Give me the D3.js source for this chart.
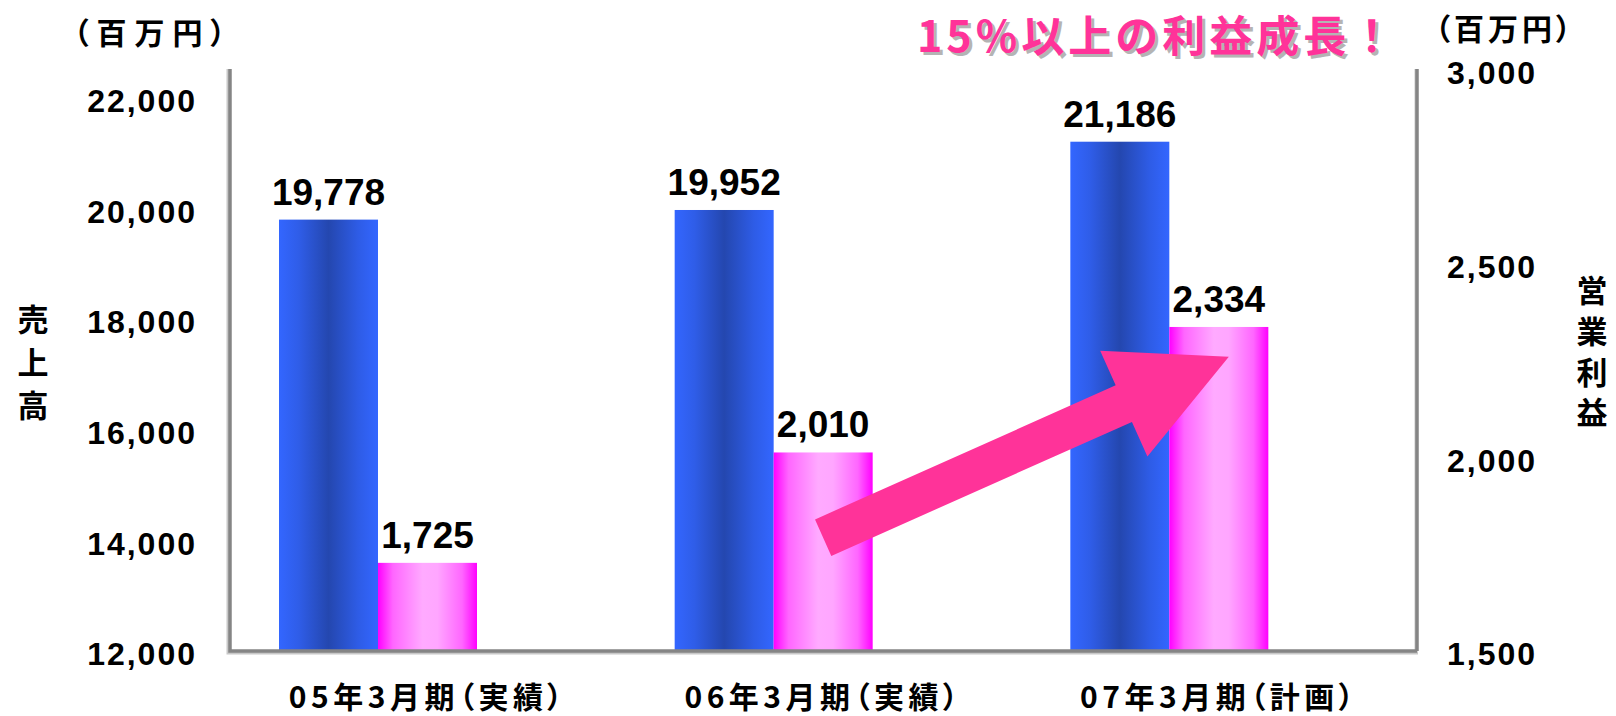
<!DOCTYPE html>
<html>
<head>
<meta charset="utf-8">
<script src="https://cdn.jsdelivr.net/npm/d3@7/dist/d3.min.js"></script>
<style>
  html, body { margin: 0; padding: 0; background: #fff; }
  svg { display: block; }
  .palt { font-feature-settings: "palt" 1; }
</style>
</head>
<body>
<svg id="chart" width="1616" height="716"></svg>
<script>
// ---- data ----
const categories = ["05年3月期（実績）", "06年3月期（実績）", "07年3月期（計画）"];
const salesValues = [19778, 19952, 21186];
const profitValues = [1725, 2010, 2334];
const leftTicks = [12000, 14000, 16000, 18000, 20000, 22000];
const rightTicks = [1500, 2000, 2500, 3000];
const leftUnit = "（百万円）";
const rightUnit = "（百万円）";
const leftTitle = "売上高";
const rightTitle = "営業利益";
const headline = "15%以上の利益成長！";
const arrowFrom = 1790;   // secondary-axis value at arrow tail
const arrowTo = 2257;     // secondary-axis value at arrow tip

// ---- layout ----
const svg = d3.select("#chart");
const plot = { left: 230, right: 1417, top: 69, bottom: 650 };
const JP = "'Noto Sans CJK JP', 'Noto Sans', sans-serif";
const NUM = "'Liberation Sans', Arial, sans-serif";

const x = d3.scaleBand().domain(categories).range([plot.left, plot.right]);
const sub = d3.scaleBand().domain(["sales", "profit"]).range([49, 49 + 198]);
const yL = d3.scaleLinear().domain([12000, 22500]).range([plot.bottom, plot.top]);
const yR = d3.scaleLinear().domain([1500, 3000]).range([plot.bottom, plot.top]);

// gradients
const defs = svg.append("defs");
const gb = defs.append("linearGradient").attr("id", "gBlue").attr("x1", 0).attr("x2", 1).attr("y1", 0).attr("y2", 0);
[[0, "#3366FF"], [0.2, "#2F5DE8"], [0.5, "#2447AF"], [0.8, "#2E5CE6"], [1, "#3366FF"]]
  .forEach(([o, c]) => gb.append("stop").attr("offset", o).attr("stop-color", c));
const gp = defs.append("linearGradient").attr("id", "gPink").attr("x1", 0).attr("x2", 1).attr("y1", 0).attr("y2", 0);
[[0, "#FF00FF"], [0.15, "#FF66FF"], [0.45, "#FFAAFF"], [0.6, "#FFA6FF"], [0.85, "#FF66FF"], [1, "#FF00FF"]]
  .forEach(([o, c]) => gp.append("stop").attr("offset", o).attr("stop-color", c));

// bars
const data = categories.map((c, i) => ({ c, s: salesValues[i], p: profitValues[i] }));

svg.append("g").selectAll("rect").data(data).join("rect")
  .attr("x", d => x(d.c) + sub("sales"))
  .attr("width", sub.bandwidth())
  .attr("y", d => yL(d.s))
  .attr("height", d => yL.range()[0] - yL(d.s))
  .attr("fill", "url(#gBlue)");

svg.append("g").selectAll("rect").data(data).join("rect")
  .attr("x", d => x(d.c) + sub("profit"))
  .attr("width", sub.bandwidth())
  .attr("y", d => yR(d.p))
  .attr("height", d => yR.range()[0] - yR(d.p))
  .attr("fill", "url(#gPink)");

// value labels
const fmt = d3.format(",");
svg.append("g").selectAll("text").data(data).join("text")
  .attr("x", d => x(d.c) + sub("sales") + sub.bandwidth() / 2)
  .attr("y", d => yL(d.s) - 15)
  .attr("text-anchor", "middle")
  .attr("font-family", NUM).attr("font-weight", "bold").attr("font-size", 37)
  .text(d => fmt(d.s));
svg.append("g").selectAll("text").data(data).join("text")
  .attr("x", d => x(d.c) + sub("profit") + sub.bandwidth() / 2)
  .attr("y", d => yR(d.p) - 15)
  .attr("text-anchor", "middle")
  .attr("font-family", NUM).attr("font-weight", "bold").attr("font-size", 37)
  .text(d => fmt(d.p));

// axes (tick labels)
const axL = svg.append("g").attr("transform", `translate(${plot.left},0)`)
  .call(d3.axisLeft(yL).tickValues(leftTicks).tickSize(0).tickPadding(33).tickFormat(fmt));
axL.select(".domain").remove();
axL.selectAll("text").attr("font-family", NUM).attr("font-weight", "bold").attr("font-size", 32)
  .attr("letter-spacing", 2).attr("fill", "#000").attr("dy", "0.46em");

const axR = svg.append("g").attr("transform", `translate(${plot.right},0)`)
  .call(d3.axisRight(yR).tickValues(rightTicks).tickSize(0).tickPadding(30).tickFormat(fmt));
axR.select(".domain").remove();
axR.selectAll("text").attr("font-family", NUM).attr("font-weight", "bold").attr("font-size", 32)
  .attr("letter-spacing", 2).attr("fill", "#000").attr("dy", "0.46em");

const axB = svg.append("g").attr("transform", `translate(0,${plot.bottom})`)
  .call(d3.axisBottom(x).tickSize(0).tickPadding(49));
axB.select(".domain").remove();
axB.selectAll("text").attr("class", "palt").attr("font-family", JP).attr("font-weight", "bold").attr("font-size", 30)
  .attr("letter-spacing", 4.5).attr("fill", "#000").attr("dy", "0.3em");

// axis lines (with light shadow)
const lines = svg.append("g");
lines.append("path")
  .attr("d", `M${plot.left - 2},${plot.top} V${plot.bottom + 3} H${plot.right + 1} M${plot.right - 1},${plot.bottom + 3} V${plot.top}`)
  .attr("fill", "none").attr("stroke", "#C8C8C8").attr("stroke-width", 3);
lines.append("path")
  .attr("d", `M${plot.left},${plot.top} V${plot.bottom + 1} H${plot.right} M${plot.right},${plot.bottom + 1} V${plot.top}`)
  .attr("fill", "none").attr("stroke", "#858585").attr("stroke-width", 3.5);

// unit labels
svg.append("text").attr("class", "palt").attr("x", 73.5).attr("y", 44)
  .attr("font-family", JP).attr("font-weight", "bold").attr("font-size", 30)
  .attr("letter-spacing", 8).text(leftUnit);
svg.append("text").attr("class", "palt").attr("x", 1435).attr("y", 40)
  .attr("font-family", JP).attr("font-weight", "bold").attr("font-size", 30)
  .attr("letter-spacing", 4).text(rightUnit);

// vertical axis titles (vertical writing)
svg.append("text")
  .attr("x", 33).attr("y", 303.5)
  .attr("writing-mode", "vertical-rl")
  .attr("font-family", JP).attr("font-weight", "bold").attr("font-size", 31)
  .attr("letter-spacing", 12)
  .text(leftTitle);
svg.append("text")
  .attr("x", 1592).attr("y", 275)
  .attr("writing-mode", "vertical-rl")
  .attr("font-family", JP).attr("font-weight", "bold").attr("font-size", 31)
  .attr("letter-spacing", 9.7)
  .text(rightTitle);

// arrow annotation (anchored to pink bars via scales)
const T = [x(categories[1]) + sub("profit") + sub.bandwidth() / 2, yR(arrowFrom)];
const P = [x(categories[2]) + sub("profit") + sub.bandwidth() / 2 + 10, yR(arrowTo)];
const dx = P[0] - T[0], dy = P[1] - T[1], len = Math.hypot(dx, dy);
const u = [dx / len, dy / len], n = [-u[1], u[0]];
const headLen = 115, sh = 20, hh = 58;
const B = [P[0] - u[0] * headLen, P[1] - u[1] * headLen];
const pt = (b, k) => [b[0] + n[0] * k, b[1] + n[1] * k];
const arrowPts = [pt(T, sh), pt(B, sh), pt(B, hh), P, pt(B, -hh), pt(B, -sh), pt(T, -sh)];
svg.append("polygon").attr("points", arrowPts.map(p => p.join(",")).join(" ")).attr("fill", "#FF3399");

// headline with shadow
const hl = svg.append("g").attr("font-family", JP).attr("font-weight", "bold").attr("font-size", 43)
  .attr("letter-spacing", 4);
hl.append("text").attr("x", 920).attr("y", 55).attr("fill", "#B4B4B4").text(headline);
hl.append("text").attr("x", 917).attr("y", 52).attr("fill", "#FF3399").text(headline);
</script>
</body>
</html>
